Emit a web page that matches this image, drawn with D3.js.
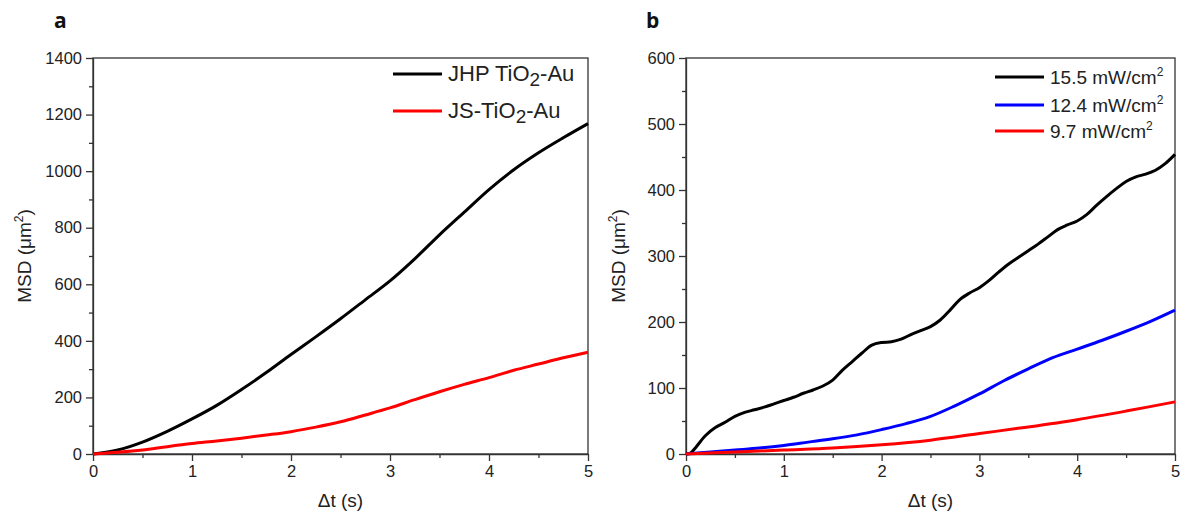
<!DOCTYPE html>
<html>
<head>
<meta charset="utf-8">
<script src="https://d3js.org/d3.v7.min.js"></script>
<style>
  body { margin: 0; background: #fff; }
  text { font-family: "Liberation Sans", Arial, sans-serif; fill: #222; }
  .tick text { font-size: 16.5px; }
  .axis path, .axis line { stroke: #333; stroke-width: 1.3; }
  .title { font-size: 19px; }
  .legend { font-size: 19px; }
  .panel { font-family: "Open Sans", sans-serif; font-weight: bold; font-size: 21px; fill: #111; }
</style>
</head>
<body>
<svg width="1183" height="513"></svg>
<script>
// panel a: time (s) and MSD (um^2)
var tA = [0, 0.25, 0.5, 0.75, 1, 1.25, 1.5, 1.75, 2, 2.25, 2.5, 2.75, 3, 3.25, 3.5, 3.75, 4, 4.25, 4.5, 4.75, 5];
var jhp = [0, 14, 42, 80, 124, 172, 228, 288, 352, 414, 478, 545, 612, 690, 775, 855, 935, 1005, 1065, 1118, 1168];
var js  = [0, 6, 14, 26, 37, 46, 56, 67, 79, 95, 114, 138, 163, 192, 220, 246, 270, 296, 318, 340, 360];

// panel b
var tB1 = [0, 0.05, 0.1, 0.2, 0.3, 0.4, 0.5, 0.6, 0.7, 0.8, 0.9, 1, 1.1, 1.2, 1.3, 1.4, 1.5, 1.6, 1.7, 1.8, 1.9, 2,
           2.1, 2.2, 2.3, 2.4, 2.5, 2.6, 2.7, 2.8, 2.9, 3, 3.1, 3.2, 3.3, 3.4, 3.5, 3.6, 3.7, 3.8, 3.9, 4,
           4.1, 4.2, 4.3, 4.4, 4.5, 4.6, 4.7, 4.8, 4.9, 5];
var p155 = [0, 2, 10, 28, 40, 48, 57, 63, 67, 71, 76, 81, 86, 92, 97, 103, 112, 127, 140, 153, 165, 169,
            170, 174, 181, 187, 193, 203, 218, 234, 244, 252, 263, 276, 288, 298, 308, 318, 329, 340, 347, 353,
            363, 377, 390, 402, 413, 420, 424, 430, 440, 454];
var tB2 = [0, 0.25, 0.5, 0.75, 1, 1.25, 1.5, 1.75, 2, 2.25, 2.5, 2.75, 3, 3.25, 3.5, 3.75, 4, 4.25, 4.5, 4.75, 5];
var p124 = [0, 3, 6, 9, 13, 18, 23, 29, 37, 46, 57, 73, 91, 111, 129, 146, 159, 172, 186, 201, 218];
var tB3 = [0, 0.5, 1, 1.5, 2, 2.5, 3, 3.5, 4, 4.5, 5];
var p97 = [0, 3, 6, 9, 14, 21, 31, 41, 52, 65, 79];

var xTicks = [0, 1, 2, 3, 4, 5];
var xMinor = [0.5, 1.5, 2.5, 3.5, 4.5];
var yTicksA = [0, 200, 400, 600, 800, 1000, 1200, 1400];
var yTicksB = [0, 100, 200, 300, 400, 500, 600];

var svg = d3.select("svg");

function zip(t, v) { return t.map(function(d, i) { return [d, v[i]]; }); }

function panel(opt) {
  var x = d3.scaleLinear().domain([0, 5]).range([opt.left, opt.right]);
  var y = d3.scaleLinear().domain([0, opt.ymax]).range([454, 58]);
  var g = svg.append("g");

  g.append("rect")
    .attr("x", opt.left).attr("y", 58)
    .attr("width", opt.right - opt.left).attr("height", 454 - 58)
    .attr("fill", "#fff").attr("stroke", "#333").attr("stroke-width", 1.3);

  // minor ticks first
  g.append("g").attr("class", "axis")
    .attr("transform", "translate(0,454)")
    .call(d3.axisBottom(x).tickValues(xMinor).tickSize(4).tickFormat(""))
    .select(".domain").remove();
  var yMinor = d3.range(opt.ystep / 2, opt.ymax, opt.ystep);
  g.append("g").attr("class", "axis")
    .attr("transform", "translate(" + opt.left + ",0)")
    .call(d3.axisLeft(y).tickValues(yMinor).tickSize(4).tickFormat(""))
    .select(".domain").remove();

  var xa = g.append("g").attr("class", "axis")
    .attr("transform", "translate(0,454)")
    .call(d3.axisBottom(x).tickValues(xTicks).tickFormat(d3.format("d"))
      .tickSize(7).tickSizeOuter(0).tickPadding(4));
  xa.selectAll("text").attr("fill", "#222");
  var ya = g.append("g").attr("class", "axis")
    .attr("transform", "translate(" + opt.left + ",0)")
    .call(d3.axisLeft(y).tickValues(opt.yticks).tickFormat(d3.format("d"))
      .tickSize(7).tickSizeOuter(0).tickPadding(4));
  ya.selectAll("text").attr("fill", "#222");

  var line = d3.line()
    .x(function(d) { return x(d[0]); })
    .y(function(d) { return y(d[1]); })
    .curve(d3.curveCatmullRom);

  opt.series.forEach(function(s) {
    g.append("path")
      .datum(zip(s.t, s.v))
      .attr("fill", "none")
      .attr("stroke", s.color)
      .attr("stroke-width", 3)
      .attr("d", line);
  });

  // axis titles
  g.append("text").attr("class", "title")
    .attr("x", (opt.left + opt.right) / 2).attr("y", 507)
    .attr("text-anchor", "middle").text("\u0394t (s)");
  var yt = g.append("text").attr("class", "title")
    .attr("transform", "translate(" + opt.ytitleX + "," + 256 + ") rotate(-90)")
    .attr("text-anchor", "middle");
  yt.append("tspan").text("MSD (\u03bcm");
  yt.append("tspan").attr("font-size", "12px").attr("dy", -8).text("2");
  yt.append("tspan").attr("dy", 8).text(")");

  g.append("text").attr("class", "panel")
    .attr("x", opt.labelX).attr("y", 28).text(opt.label);

  // legend
  opt.series.forEach(function(s, i) {
    var ly = opt.legendY[i];
    g.append("line")
      .attr("x1", opt.legendX).attr("x2", opt.legendX + 49)
      .attr("y1", ly).attr("y2", ly)
      .attr("stroke", s.color).attr("stroke-width", 3);
    var t = g.append("text").attr("class", "legend")
      .attr("x", opt.legendX + 55).attr("y", ly + 7)
      .style("font-size", opt.legendSize + "px");
    s.name(t);
  });
}

panel({
  left: 93, right: 588, ymax: 1400, ystep: 200, yticks: yTicksA,
  ytitleX: 31, labelX: 54, label: "a",
  legendX: 393, legendY: [74, 111], legendSize: 22,
  series: [
    { t: tA, v: jhp, color: "#000000", name: function(t) {
        t.append("tspan").text("JHP TiO");
        t.append("tspan").attr("font-size", "19px").attr("dy", 5).text("2");
        t.append("tspan").attr("dy", -5).text("-Au");
      } },
    { t: tA, v: js, color: "#ff0000", name: function(t) {
        t.append("tspan").text("JS-TiO");
        t.append("tspan").attr("font-size", "19px").attr("dy", 5).text("2");
        t.append("tspan").attr("dy", -5).text("-Au");
      } }
  ]
});

function cm(label) {
  return function(t) {
    t.append("tspan").text(label + " mW/cm");
    t.append("tspan").attr("font-size", "12px").attr("dy", -8).text("2");
  };
}

panel({
  left: 686, right: 1175, ymax: 600, ystep: 100, yticks: yTicksB,
  ytitleX: 625, labelX: 646, label: "b",
  legendX: 995, legendY: [77, 105, 131], legendSize: 19,
  series: [
    { t: tB1, v: p155, color: "#000000", name: cm("15.5") },
    { t: tB2, v: p124, color: "#0000ff", name: cm("12.4") },
    { t: tB3, v: p97, color: "#ff0000", name: cm("9.7") }
  ]
});
</script>
</body>
</html>
